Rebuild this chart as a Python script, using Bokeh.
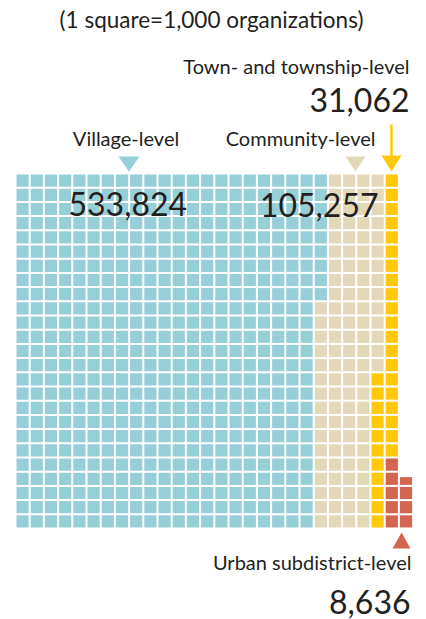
from bokeh.plotting import figure
from bokeh.models import Range1d, ColumnDataSource
from bokeh.core.properties import value
from bokeh.embed import file_html
from bokeh.resources import INLINE
import math

# ---- data ----
categories = ["Village-level", "Community-level", "Town- and township-level", "Urban subdistrict-level"]
counts = [533824, 105257, 31062, 8636]
unit = 1000
colors = ["#97CFD8", "#E3D9B8", "#FFC80B", "#D4664F"]
number_labels = ["533,824", "105,257", "31,062", "8,636"]
subtitle = "(1 square=1,000 organizations)"

# ---- layout constants ----
ROWS = 25
X0, Y0 = 16.0, 174.0
PITCH = 14.2
SIZE = 12.2
FONT = value("Lato")
TXT = "#231F20"
LAB = "20px"
NUM = "32px"
DL = 9    # baseline correction for labels
DN = 12   # baseline correction for numbers

p = figure(width=426, height=619, output_backend="svg", toolbar_location=None,
           x_range=Range1d(0, 426), y_range=Range1d(619, 0), min_border=0)
p.axis.visible = False
p.grid.visible = False
p.outline_line_color = None
p.background_fill_color = "white"

# build squares column-major, top to bottom; last partial column filled bottom-up
squares = {"x": [], "y": [], "h": [], "c": []}
cells = []
for i, (n, col) in enumerate(zip(counts, colors)):
    v = n / unit
    if i < len(counts) - 1:
        k = int(round(v))
        cells += [(col, 1.0)] * k
    else:
        k = int(math.floor(v))
        cells += [(col, 1.0)] * k
        frac = v - k
        if frac > 0:
            cells.append((col, frac))
total_full_cols = len(cells) // ROWS
for idx, (col, frac) in enumerate(cells):
    c = idx // ROWS
    r = idx % ROWS
    if c == total_full_cols:  # last incomplete column: bottom-up
        r = ROWS - 1 - r
    cx = X0 + c * PITCH + SIZE / 2
    bottom = Y0 + r * PITCH + SIZE
    h = SIZE * frac
    squares["x"].append(cx)
    squares["y"].append(bottom - h / 2)
    squares["h"].append(h)
    squares["c"].append(col)

src = ColumnDataSource(squares)
p.rect(x="x", y="y", width=SIZE, height="h", fill_color="c", line_color=None, source=src)

# subtitle
p.text(x=[211], y=[28 - 9], text=[subtitle], text_font=FONT, text_font_size="22.5px",
       text_color=TXT, text_align="center", text_baseline="alphabetic")

# Town-level label + arrow
p.text(x=[409], y=[74 - DL], text=[categories[2]], text_font=FONT, text_font_size=LAB,
       text_color=TXT, text_align="right", text_baseline="alphabetic")
p.text(x=[409], y=[111 - DN], text=[number_labels[2]], text_font=FONT, text_font_size=NUM,
       text_color=TXT, text_align="right", text_baseline="alphabetic")
p.segment(x0=[391], y0=[124], x1=[391], y1=[158], line_color=colors[2], line_width=2.5)
p.patch(x=[381, 401, 391], y=[155, 155, 171], fill_color=colors[2], line_color=None)

# Village label + triangle
p.text(x=[125.5], y=[146 - DL], text=[categories[0]], text_font=FONT, text_font_size=LAB,
       text_color=TXT, text_align="center", text_baseline="alphabetic")
p.patch(x=[118, 139, 128.5], y=[156, 156, 171], fill_color=colors[0], line_color=None)

# Community label + triangle
p.text(x=[375], y=[146 - DL], text=[categories[1]], text_font=FONT, text_font_size=LAB,
       text_color=TXT, text_align="right", text_baseline="alphabetic")
p.patch(x=[345, 365, 355], y=[156, 156, 171], fill_color=colors[1], line_color=None)

# big numbers on grid
p.text(x=[68], y=[215 - DN], text=[number_labels[0]], text_font=FONT, text_font_size=NUM,
       text_color=TXT, text_align="left", text_baseline="alphabetic")
p.text(x=[378], y=[216 - DN], text=[number_labels[1]], text_font=FONT, text_font_size=NUM,
       text_color=TXT, text_align="right", text_baseline="alphabetic")

# Urban label + triangle
p.patch(x=[392, 410, 401], y=[548, 548, 532], fill_color=colors[3], line_color=None)
p.text(x=[411], y=[570 - DL], text=[categories[3]], text_font=FONT, text_font_size=LAB,
       text_color=TXT, text_align="right", text_baseline="alphabetic")
p.text(x=[410], y=[613 - DN], text=[number_labels[3]], text_font=FONT, text_font_size=NUM,
       text_color=TXT, text_align="right", text_baseline="alphabetic")

open("out.html", "w").write(file_html(p, INLINE))
